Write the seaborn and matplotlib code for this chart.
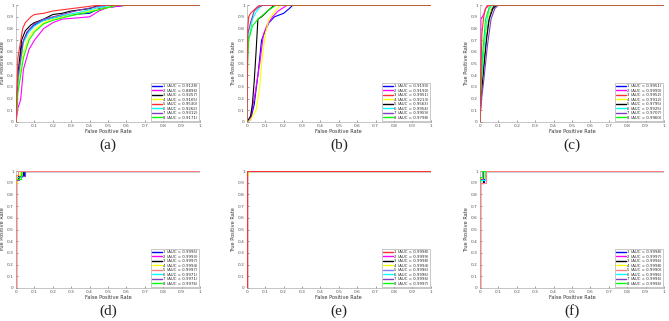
import numpy as np
import pandas as pd
import seaborn as sns
import matplotlib.pyplot as plt

# ROC curves, one list of 8 curves per panel
a_fpr = [[0, 0.01, 0.03, 0.06, 0.1, 0.15, 0.2, 0.3, 0.4, 0.45, 0.6, 1],
         [0, 0.01, 0.025, 0.04, 0.07, 0.1, 0.15, 0.2, 0.25, 0.4, 0.45, 0.5, 0.6, 1],
         [0, 0.01, 0.03, 0.05, 0.08, 0.1, 0.15, 0.2, 0.25, 0.3, 0.4, 0.45, 1],
         [0, 0.01, 0.04, 0.07, 0.1, 0.15, 0.2, 0.3, 0.4, 0.5, 0.55, 1],
         [0, 0.01, 0.036, 0.05, 0.08, 0.1, 0.15, 0.2, 0.3, 0.35, 0.45, 1],
         [0, 0.01, 0.04, 0.07, 0.1, 0.15, 0.25, 0.35, 0.45, 0.52, 1],
         [0, 0.01, 0.04, 0.07, 0.1, 0.15, 0.25, 0.35, 0.45, 0.5, 1],
         [0, 0.01, 0.04, 0.07, 0.1, 0.15, 0.2, 0.3, 0.4, 0.5, 0.55, 1]]
a_tpr = [[0, 0.35, 0.65, 0.77, 0.83, 0.87, 0.89, 0.92, 0.93, 0.97, 1, 1],
         [0, 0.12, 0.19, 0.45, 0.62, 0.70, 0.80, 0.85, 0.88, 0.90, 0.95, 0.98, 1, 1],
         [0, 0.40, 0.70, 0.78, 0.83, 0.85, 0.88, 0.92, 0.93, 0.95, 0.97, 1, 1],
         [0, 0.30, 0.60, 0.73, 0.79, 0.85, 0.88, 0.92, 0.95, 0.98, 1, 1],
         [0, 0.55, 0.80, 0.85, 0.90, 0.92, 0.93, 0.95, 0.97, 0.98, 1, 1],
         [0, 0.35, 0.68, 0.77, 0.82, 0.87, 0.91, 0.94, 0.98, 1, 1],
         [0, 0.38, 0.70, 0.79, 0.84, 0.88, 0.92, 0.96, 0.99, 1, 1],
         [0, 0.25, 0.55, 0.70, 0.77, 0.84, 0.87, 0.91, 0.94, 0.98, 1, 1]]
a_auc = ['0.9128', '0.8896', '0.9257', '0.9165', '0.9530', '0.9262', '0.9312', '0.9171']
a_colors = ['#0000ff', '#ff00ff', '#000000', '#ffff00', '#ff3030', '#00ffff', '#8040c0', '#00ff00']

b_fpr = [[0, 0.02, 0.04, 0.06, 0.08, 0.1, 0.12, 0.15, 0.2, 0.23, 0.25, 1],
         [0, 0.02, 0.04, 0.07, 0.09, 0.11, 0.14, 0.17, 0.22, 1],
         [0, 0.005, 0.01, 0.02, 0.04, 0.06, 0.07, 1],
         [0, 0.02, 0.05, 0.07, 0.08, 0.1, 0.12, 0.14, 0.16, 0.18, 1],
         [0, 0.02, 0.03, 0.04, 0.05, 0.06, 0.08, 0.1, 0.12, 0.15, 1],
         [0, 0.005, 0.02, 0.03, 0.05, 0.07, 0.08, 1],
         [0, 0.005, 0.02, 0.04, 0.06, 0.09, 1],
         [0, 0.005, 0.01, 0.03, 0.06, 0.09, 0.12, 0.16, 1]]
b_tpr = [[0, 0.02, 0.15, 0.40, 0.70, 0.78, 0.85, 0.90, 0.93, 0.97, 1, 1],
         [0, 0.03, 0.20, 0.50, 0.75, 0.83, 0.90, 0.95, 1, 1],
         [0, 0.80, 0.90, 0.93, 0.96, 0.99, 1, 1],
         [0, 0.02, 0.10, 0.30, 0.50, 0.75, 0.88, 0.92, 0.96, 1, 1],
         [0, 0.05, 0.15, 0.35, 0.60, 0.88, 0.90, 0.93, 0.96, 1, 1],
         [0, 0.70, 0.78, 0.88, 0.94, 0.98, 1, 1],
         [0, 0.75, 0.85, 0.95, 0.98, 1, 1],
         [0, 0.55, 0.70, 0.82, 0.88, 0.92, 0.96, 1, 1]]
b_auc = ['0.9190', '0.9190', '0.9951', '0.9213', '0.9563', '0.9954', '0.9959', '0.9798']
b_colors = ['#0000ff', '#ff00ff', '#ff3030', '#ffff00', '#000000', '#00ffff', '#8040c0', '#00ff00']

c_fpr = [[0, 0.005, 0.02, 0.04, 0.06, 0.08, 1],
         [0, 0.003, 0.005, 0.02, 0.03, 0.05, 1],
         [0, 0.005, 0.01, 0.02, 0.03, 0.04, 1],
         [0, 0.005, 0.02, 0.04, 0.06, 0.07, 1],
         [0, 0.005, 0.02, 0.035, 0.05, 0.07, 0.09, 1],
         [0, 0.005, 0.02, 0.035, 0.05, 0.065, 1],
         [0, 0.005, 0.02, 0.04, 0.06, 0.08, 0.1, 1],
         [0, 0.005, 0.015, 0.03, 0.05, 0.06, 1]]
c_tpr = [[0, 0.20, 0.50, 0.82, 0.96, 1, 1],
         [0, 0.50, 0.88, 0.92, 0.97, 1, 1],
         [0, 0.40, 0.75, 0.90, 0.97, 1, 1],
         [0, 0.25, 0.55, 0.85, 0.97, 1, 1],
         [0, 0.20, 0.45, 0.70, 0.88, 0.97, 1, 1],
         [0, 0.30, 0.60, 0.85, 0.97, 1, 1],
         [0, 0.15, 0.35, 0.65, 0.88, 0.97, 1, 1],
         [0, 0.30, 0.60, 0.88, 0.98, 1, 1]]
c_auc = ['0.9951', '0.9990', '0.9952', '0.9912', '0.9795', '0.9925', '0.9707', '0.9960']
c_colors = ['#0000ff', '#ff00ff', '#ff3030', '#ffff00', '#000000', '#00ffff', '#8040c0', '#00ff00']

d_fpr = [[0, 0, 0.01, 0.01, 0.045, 0.045, 1],
         [0, 0, 0.03, 0.03, 1],
         [0, 0, 0.008, 0.008, 0.04, 0.04, 1],
         [0, 0, 0.004, 0.004, 0.02, 0.02, 1],
         [0, 0, 0.01, 0.01, 1],
         [0, 0, 0.035, 0.035, 1],
         [0, 0, 0.015, 0.015, 0.05, 0.05, 1],
         [0, 0, 0.025, 0.025, 1]]
d_tpr = [[0, 0.93, 0.93, 0.96, 0.96, 1, 1],
         [0, 0.95, 0.95, 1, 1],
         [0, 0.94, 0.94, 0.97, 0.97, 1, 1],
         [0, 0.90, 0.90, 0.97, 0.97, 1, 1],
         [0, 0.97, 0.97, 1, 1],
         [0, 0.95, 0.95, 1, 1],
         [0, 0.92, 0.92, 0.96, 0.96, 1, 1],
         [0, 0.93, 0.93, 1, 1]]
d_auc = ['0.9995', '0.9993', '0.9997', '0.9994', '0.9997', '0.9971', '0.9971', '0.9976']
d_colors = ['#0000ff', '#ff00ff', '#000000', '#ffff00', '#ff8080', '#00ffff', '#8040c0', '#00ff00']

e_fpr = [[0, 0, 0.002, 0.002, 1],
         [0, 0, 0.001, 0.001, 1],
         [0, 0, 0.002, 0.002, 1],
         [0, 0, 0.004, 0.004, 1],
         [0, 0, 0.003, 0.003, 1],
         [0, 0, 0.003, 0.003, 1],
         [0, 0, 0.003, 0.003, 1],
         [0, 0, 0.003, 0.003, 1]]
e_tpr = [[0, 0.99, 0.99, 1, 1],
         [0, 0.99, 0.99, 1, 1],
         [0, 0.99, 0.99, 1, 1],
         [0, 0.97, 0.97, 1, 1],
         [0, 0.98, 0.98, 1, 1],
         [0, 0.98, 0.98, 1, 1],
         [0, 0.98, 0.98, 1, 1],
         [0, 0.95, 0.95, 1, 1]]
e_auc = ['0.9998', '0.9999', '0.9998', '0.9994', '0.9996', '0.9996', '0.9996', '0.9997']
e_colors = ['#ff3030', '#ff00ff', '#000000', '#ffff00', '#8080ff', '#00ffff', '#8040c0', '#00ff00']

f_fpr = [[0, 0, 0.02, 0.02, 1],
         [0, 0, 0.01, 0.01, 1],
         [0, 0, 0.015, 0.015, 1],
         [0, 0, 0.02, 0.02, 1],
         [0, 0, 0.03, 0.03, 1],
         [0, 0, 0.025, 0.025, 1],
         [0, 0, 0.015, 0.015, 1],
         [0, 0, 0.01, 0.01, 1]]
f_tpr = [[0, 0.90, 0.90, 1, 1],
         [0, 0.92, 0.92, 1, 1],
         [0, 0.90, 0.90, 1, 1],
         [0, 0.94, 0.94, 1, 1],
         [0, 0.90, 0.90, 1, 1],
         [0, 0.92, 0.92, 1, 1],
         [0, 0.93, 0.93, 1, 1],
         [0, 0.95, 0.95, 1, 1]]
f_auc = ['0.9998', '0.9997', '0.9996', '0.9998', '0.9990', '0.9996', '0.9996', '0.9996']
f_colors = ['#0000ff', '#ff00ff', '#000000', '#ffff00', '#ff8080', '#00ffff', '#8040c0', '#00ff00']

panels = [('(a)', a_fpr, a_tpr, a_auc, a_colors),
          ('(b)', b_fpr, b_tpr, b_auc, b_colors),
          ('(c)', c_fpr, c_tpr, c_auc, c_colors),
          ('(d)', d_fpr, d_tpr, d_auc, d_colors),
          ('(e)', e_fpr, e_tpr, e_auc, e_colors),
          ('(f)', f_fpr, f_tpr, f_auc, f_colors)]

sns.set_theme(style='ticks')
plt.rcParams['font.family'] = ['DejaVu Sans']

fig = plt.figure(figsize=(6.69, 3.21), dpi=100)
lefts = [0.024, 0.369, 0.7175]
bottoms = [0.620, 0.103]
w, h = 0.275, 0.364
ticklabs = ['0', '0.1', '0.2', '0.3', '0.4', '0.5', '0.6', '0.7', '0.8', '0.9', '1']

for i, (tag, fpr, tpr, auc, colors) in enumerate(panels):
    ax = fig.add_axes([lefts[i % 3], bottoms[i // 3], w, h])
    rows = []
    for k in range(8):
        lab = f'{k + 1} (AUC = {auc[k]})'
        for x, y in zip(fpr[k], tpr[k]):
            rows.append((x, y, lab))
    df = pd.DataFrame(rows, columns=['fpr', 'tpr', 'curve'])
    labels = list(df['curve'].unique())
    sns.lineplot(data=df, x='fpr', y='tpr', hue='curve', hue_order=labels,
                 palette=colors, estimator=None, sort=False, linewidth=0.8, ax=ax)
    # the red one sits on top, as in the original
    for line, c in zip(ax.lines[:8], colors):
        if c in ('#ff3030', '#ff8080'):
            line.set_zorder(5)
    ax.set_xlim(0, 1)
    ax.set_ylim(0, 1)
    ax.set_xticks(np.arange(0, 1.01, 0.1))
    ax.set_yticks(np.arange(0, 1.01, 0.1))
    ax.set_xticklabels(ticklabs)
    ax.set_yticklabels(ticklabs)
    ax.tick_params(direction='in', length=1.5, width=0.4, labelsize=3.2, pad=1.5, colors='#555555')
    for s in ['top', 'right']:
        ax.spines[s].set_visible(False)
    for s in ['left', 'bottom']:
        ax.spines[s].set_linewidth(0.4)
        ax.spines[s].set_color('#999999')
    ax.set_xlabel('False Positive Rate', fontsize=3.6, labelpad=1, color='#333333')
    ax.set_ylabel('True Positive Rate', fontsize=3.6, labelpad=1.5, color='#333333')
    leg = ax.legend(loc='lower right', fontsize=2.8, frameon=True, fancybox=False,
                    handlelength=2.6, handletextpad=0.3, labelspacing=0.12,
                    borderpad=0.3, borderaxespad=0.3)
    leg.get_frame().set_linewidth(0.4)
    leg.get_frame().set_edgecolor('#888888')
    for line in leg.get_lines():
        line.set_linewidth(1.0)
    ax.text(0.5, -0.20, tag, transform=ax.transAxes, ha='center', va='center',
            fontsize=11, family='Liberation Serif')

fig.savefig('out.png', dpi=100)
